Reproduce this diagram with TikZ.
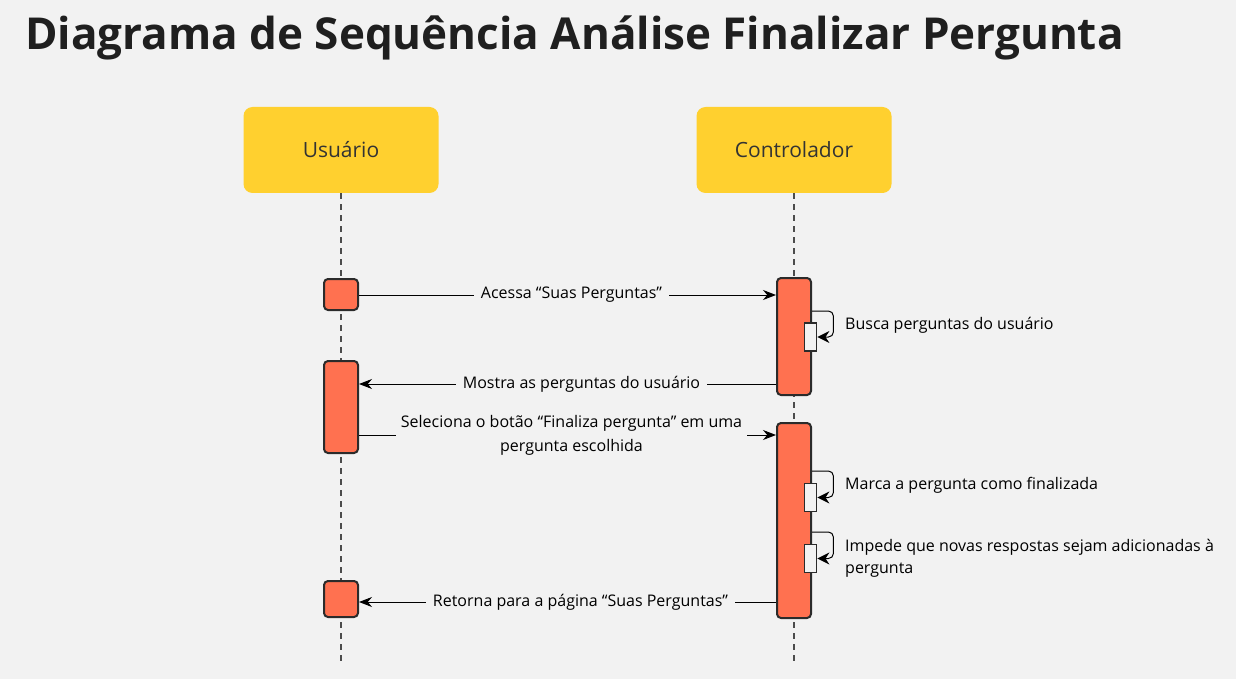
\documentclass[tikz,border=0pt]{standalone}
\usepackage{fontspec}
\setmainfont{Open Sans}
\usetikzlibrary{positioning, arrows.meta, calc}
\definecolor{fundo}{HTML}{F2F2F2}
\definecolor{ator}{HTML}{FFD02F}
\definecolor{ativo}{HTML}{FF7150}
\definecolor{borda}{HTML}{2B2B2B}

\begin{document}
\begin{tikzpicture}[x=1pt, y=-1pt,
	atorbox/.style={fill=ator, rounded corners=9pt, minimum width=195pt, minimum height=86pt, text=black!80, font=\fontsize{21}{25}\selectfont},
	lifeline/.style={draw=black!70, line width=1.6pt, dash pattern=on 6pt off 5pt},
	ativbar/.style={draw=borda, fill=ativo, line width=2pt, rounded corners=4pt, minimum width=34pt, inner sep=0pt},
	selfbox/.style={draw=borda, fill=fundo, line width=1.8pt, minimum width=12pt, minimum height=28pt, inner sep=0pt},
	msg/.style={draw=black, line width=1pt, -{Stealth[length=13pt, width=10pt]}},
	selfmsg/.style={draw=black, line width=1pt, rounded corners=5pt, -{Stealth[length=12pt, width=12pt]}},
	rotulo/.style={fill=fundo, font=\fontsize{16}{24}\selectfont, inner xsep=7pt, inner ysep=1pt, align=center},
	nota/.style={anchor=west, font=\fontsize{16}{22}\selectfont, align=left, inner sep=0pt}
	]
	\fill[fundo] (0,0) rectangle (1236,679);
	\node[anchor=base west, font=\fontsize{44}{50}\selectfont\bfseries, text=black!88, inner sep=0pt] (titulo) at (25,50) {Diagrama de Sequência Análise Finalizar Pergunta};

	\node[atorbox] (usuario) at (341,150) {Usuário};
	\node[atorbox] (controlador) at (794,150) {Controlador};
	\coordinate (fim) at (0,665);
	\draw[lifeline] (usuario.south) -- (usuario.south |- fim);
	\draw[lifeline] (controlador.south) -- (controlador.south |- fim);

	\node[ativbar, minimum height=31pt] (u1) at (341,294.5) {};
	\node[ativbar, minimum height=92pt] (u2) at (341,407) {};
	\node[ativbar, minimum height=36pt] (u3) at (341,599) {};
	\node[ativbar, minimum height=117pt] (c1) at (794,336.5) {};
	\node[ativbar, minimum height=195pt] (c2) at (794,520.5) {};

	\node[selfbox] (s1) at (810.5,337) {};
	\node[selfbox] (s2) at (810.5,497.5) {};
	\node[selfbox] (s3) at (810.5,558.5) {};

	\coordinate (m1) at (0,295);
	\coordinate (m2) at (0,384);
	\coordinate (m3) at (0,435);
	\coordinate (m4) at (0,602);
	\draw[msg] (u1.east |- m1) -- (c1.west |- m1) node[rotulo, midway, xshift=4pt] {Acessa “Suas Perguntas”};
	\draw[msg] (c1.west |- m2) -- (u2.east |- m2) node[rotulo, midway, xshift=14pt] {Mostra as perguntas do usuário};
	\draw[msg] (u2.east |- m3) -- (c2.west |- m3) node[rotulo, midway, xshift=4pt, inner xsep=5pt] {Seleciona o botão “Finaliza pergunta” em uma\\pergunta escolhida};
	\draw[msg] (c2.west |- m4) -- (u3.east |- m4) node[rotulo, midway, xshift=13pt] {Retorna para a página “Suas Perguntas”};

	\coordinate (b1) at (0,311);
	\coordinate (b2) at (0,471);
	\coordinate (b3) at (0,532);
	\draw[selfmsg] (c1.east |- b1) -| ($(s1.east)+(16,0)$) -- (s1.east);
	\draw[selfmsg] (c2.east |- b2) -| ($(s2.east)+(16,0)$) -- (s2.east);
	\draw[selfmsg] (c2.east |- b3) -| ($(s3.east)+(16,0)$) -- (s3.east);

	\node[nota] (n1) at (845,325) {Busca perguntas do usuário};
	\node[nota] (n2) at (845,485) {Marca a pergunta como finalizada};
	\node[nota] (n3) at (845,558) {Impede que novas respostas sejam adicionadas à\\pergunta};
\end{tikzpicture}
\end{document}
